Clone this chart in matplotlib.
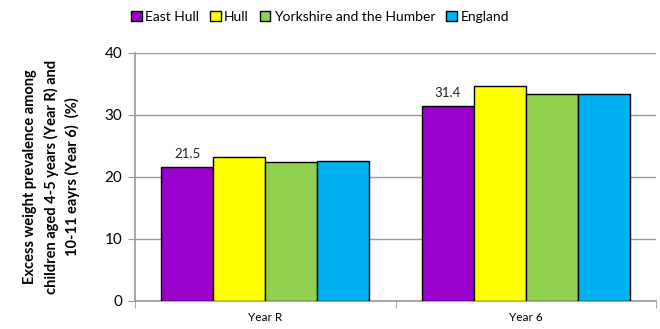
import matplotlib.pyplot as plt
import numpy as np

plt.rcParams["font.family"] = ["Lato", "DejaVu Sans"]

categories = ["Year R", "Year 6"]
areas = ["East Hull", "Hull", "Yorkshire and the Humber", "England"]
east_hull = [21.5, 31.4]
hull = [23.2, 34.6]
yorkshire = [22.3, 33.4]
england = [22.5, 33.4]
colors = ["#9900CC", "#FFFF00", "#92D050", "#00B0F0"]

series = [east_hull, hull, yorkshire, england]

fig = plt.figure(figsize=(6.6, 3.29), dpi=100)
ax = fig.add_axes([0.2045, 0.086, 0.7895, 0.754])

x = np.arange(len(categories))
width = 0.2
for i, (vals, name, col) in enumerate(zip(series, areas, colors)):
    pos = x + (i - 1.5) * width
    ax.bar(pos, vals, width, color=col, edgecolor="black", linewidth=1.0,
           label=name, zorder=3)

# value labels on the East Hull bars only
for xi, v in zip(x, east_hull):
    ax.annotate(f"{v:.1f}", (xi - 1.5 * width, v), xytext=(0, 5),
                textcoords="offset points", ha="center", va="bottom",
                fontsize=9.5, color="#222222")

ax.set_xlim(-0.5, 1.5)
ax.set_ylim(0, 40)
ax.set_yticks([0, 10, 20, 30, 40])
ax.yaxis.grid(True, color="#999999", linewidth=1.0, zorder=0)
ax.tick_params(axis="y", labelsize=11, length=5, color="#999999", pad=4)

ax.set_xticks(x)
ax.set_xticklabels(categories, fontsize=8.5)
ax.tick_params(axis="x", length=0, pad=8)
ax.set_xticks([-0.5, 0.5, 1.5], minor=True)
ax.tick_params(axis="x", which="minor", length=5, color="#999999")

for side in ["top", "right"]:
    ax.spines[side].set_visible(False)
for side in ["left", "bottom"]:
    ax.spines[side].set_color("#999999")
    ax.spines[side].set_linewidth(1.2)

ax.set_ylabel("Excess weight prevalence among\nchildren aged 4-5 years (Year R) and\n10-11 eayrs (Year 6)  (%)",
              fontsize=10.5, fontweight="bold", linespacing=1.55)
ax.yaxis.set_label_coords(-0.105, 0.5)

ax.legend(loc="center", bbox_to_anchor=(0.355, 1.145), ncol=4, frameon=False,
          fontsize=10, handlelength=0.75, handleheight=0.75, handletextpad=0.25,
          columnspacing=0.8)

fig.savefig("out.png", dpi=100)
